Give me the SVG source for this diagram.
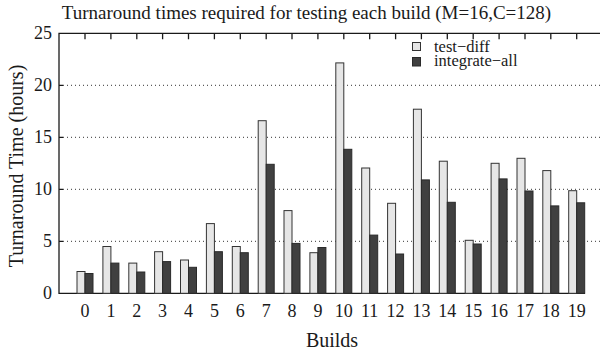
<svg xmlns="http://www.w3.org/2000/svg" width="600" height="353" viewBox="0 0 600 353" font-family="'Liberation Serif', 'Times New Roman', serif">
<style>
text{font-family:'Liberation Serif','Times New Roman',serif;fill:#1a1a1a}
.t{font-size:19px}
.tk{font-size:18px}
.ax-t{font-size:20px}
.lg{font-size:16.5px}
.grid{stroke:#333;stroke-width:1;stroke-dasharray:1 3}
.ax{stroke:#1a1a1a;stroke-width:1.3;fill:none}
.L{fill:#e6e6e6;stroke:#333;stroke-width:1}
.D{fill:#404040;stroke:#2a2a2a;stroke-width:1}
</style>
<rect width="600" height="353" fill="#fff"/>
<text class="t" x="306.5" y="19" text-anchor="middle">Turnaround times required for testing each build (M=16,C=128)</text>
<g id="grid">
<line class="grid" x1="63" y1="241.3" x2="600" y2="241.3"/>
<line class="grid" x1="63" y1="189.3" x2="600" y2="189.3"/>
<line class="grid" x1="63" y1="137.3" x2="600" y2="137.3"/>
<line class="grid" x1="63" y1="85.3" x2="600" y2="85.3"/>
</g>
<g id="axes">
<path class="ax" d="M600,33.3 H59 V293.3 H585"/>
<path class="ax" d="M59,241.3h4M59,189.3h4M59,137.3h4M59,85.3h4"/>
<path class="ax" d="M85,33.3v6M110.9,33.3v6M136.8,33.3v6M162.6,33.3v6M188.5,33.3v6M214.4,33.3v6M240.3,33.3v6M266.2,33.3v6M292,33.3v6M317.9,33.3v6M343.8,33.3v6M369.7,33.3v6M395.6,33.3v6M421.4,33.3v6M447.3,33.3v6M473.2,33.3v6M499.1,33.3v6M525,33.3v6M550.8,33.3v6M576.7,33.3v6"/>
</g>
<g id="ylabels" text-anchor="end">
<text class="tk" x="52" y="299">0</text>
<text class="tk" x="52" y="247">5</text>
<text class="tk" x="52" y="195">10</text>
<text class="tk" x="52" y="143">15</text>
<text class="tk" x="52" y="91">20</text>
<text class="tk" x="52" y="39">25</text>
</g>
<g id="xlabels" text-anchor="middle">
<text class="tk" x="85" y="317">0</text>
<text class="tk" x="110.9" y="317">1</text>
<text class="tk" x="136.8" y="317">2</text>
<text class="tk" x="162.6" y="317">3</text>
<text class="tk" x="188.5" y="317">4</text>
<text class="tk" x="214.4" y="317">5</text>
<text class="tk" x="240.3" y="317">6</text>
<text class="tk" x="266.2" y="317">7</text>
<text class="tk" x="292" y="317">8</text>
<text class="tk" x="317.9" y="317">9</text>
<text class="tk" x="343.8" y="317">10</text>
<text class="tk" x="369.7" y="317">11</text>
<text class="tk" x="395.6" y="317">12</text>
<text class="tk" x="421.4" y="317">13</text>
<text class="tk" x="447.3" y="317">14</text>
<text class="tk" x="473.2" y="317">15</text>
<text class="tk" x="499.1" y="317">16</text>
<text class="tk" x="525" y="317">17</text>
<text class="tk" x="550.8" y="317">18</text>
<text class="tk" x="576.7" y="317">19</text>
</g>
<text class="ax-t" x="332" y="347" text-anchor="middle">Builds</text>
<text class="ax-t" transform="translate(23,166) rotate(-90)" text-anchor="middle">Turnaround Time (hours)</text>
<g id="bars">
<rect class="L" x="77" y="271.5" width="8" height="21.8"/><rect class="D" x="85" y="273.5" width="8" height="19.8"/>
<rect class="L" x="102.9" y="246.5" width="8" height="46.8"/><rect class="D" x="110.9" y="263.1" width="8" height="30.2"/>
<rect class="L" x="128.8" y="263.1" width="8" height="30.2"/><rect class="D" x="136.8" y="272" width="8" height="21.3"/>
<rect class="L" x="154.6" y="251.7" width="8" height="41.6"/><rect class="D" x="162.6" y="261.6" width="8" height="31.7"/>
<rect class="L" x="180.5" y="260" width="8" height="33.3"/><rect class="D" x="188.5" y="267.3" width="8" height="26"/>
<rect class="L" x="206.4" y="223.6" width="8" height="69.7"/><rect class="D" x="214.4" y="251.7" width="8" height="41.6"/>
<rect class="L" x="232.3" y="246.5" width="8" height="46.8"/><rect class="D" x="240.3" y="252.7" width="8" height="40.6"/>
<rect class="L" x="258.2" y="120.7" width="8" height="172.6"/><rect class="D" x="266.2" y="164.3" width="8" height="129"/>
<rect class="L" x="284" y="210.6" width="8" height="82.7"/><rect class="D" x="292" y="243.4" width="8" height="49.9"/>
<rect class="L" x="309.9" y="252.7" width="8" height="40.6"/><rect class="D" x="317.9" y="247.5" width="8" height="45.8"/>
<rect class="L" x="335.8" y="62.9" width="8" height="230.4"/><rect class="D" x="343.8" y="149.3" width="8" height="144"/>
<rect class="L" x="361.7" y="168" width="8" height="125.3"/><rect class="D" x="369.7" y="235.1" width="8" height="58.2"/>
<rect class="L" x="387.6" y="203.3" width="8" height="90"/><rect class="D" x="395.6" y="254" width="8" height="39.3"/>
<rect class="L" x="413.4" y="109.2" width="8" height="184.1"/><rect class="D" x="421.4" y="179.9" width="8" height="113.4"/>
<rect class="L" x="439.3" y="161.2" width="8" height="132.1"/><rect class="D" x="447.3" y="202.3" width="8" height="91"/>
<rect class="L" x="465.2" y="240.3" width="8" height="53"/><rect class="D" x="473.2" y="244" width="8" height="49.3"/>
<rect class="L" x="491.1" y="163.3" width="8" height="130"/><rect class="D" x="499.1" y="178.9" width="8" height="114.4"/>
<rect class="L" x="517" y="158.3" width="8" height="135"/><rect class="D" x="525" y="191" width="8" height="102.3"/>
<rect class="L" x="542.8" y="170.6" width="8" height="122.7"/><rect class="D" x="550.8" y="205.9" width="8" height="87.4"/>
<rect class="L" x="568.7" y="190.7" width="8" height="102.6"/><rect class="D" x="576.7" y="202.8" width="8" height="90.5"/>
</g>
<g id="legend">
<rect class="L" x="412.5" y="42.5" width="8" height="8"/>
<text class="lg" x="434" y="52">test−diff</text>
<rect class="D" x="412.5" y="57.5" width="8" height="8.5"/>
<text class="lg" x="434" y="66">integrate−all</text>
</g>
</svg>
